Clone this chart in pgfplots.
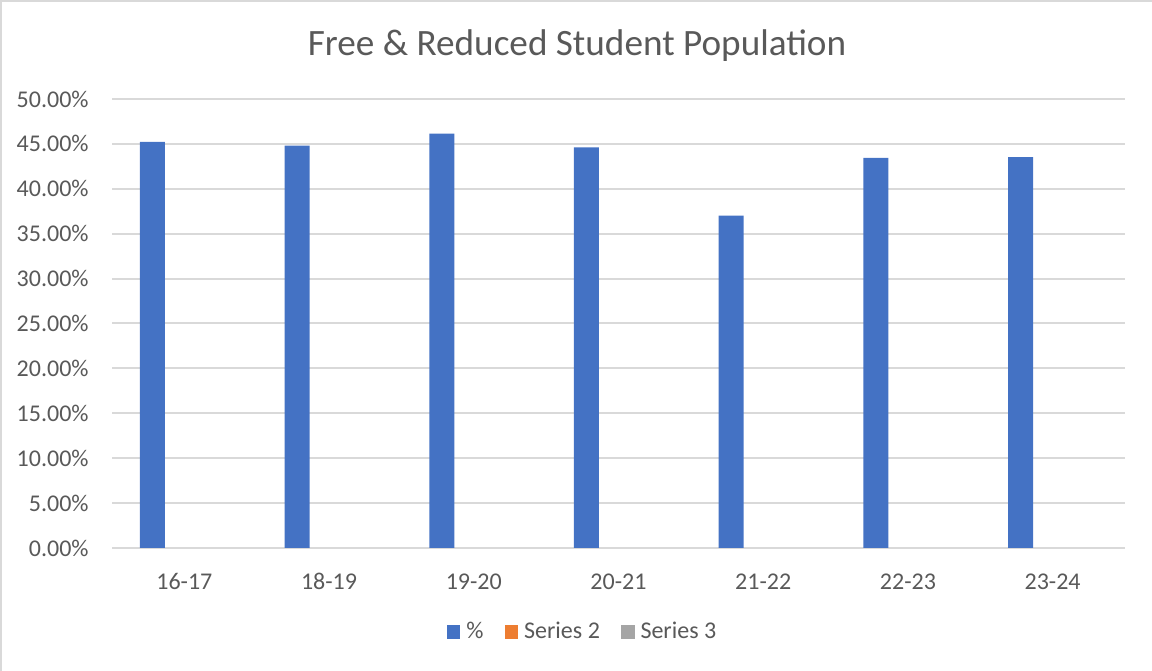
\documentclass[border=0pt]{standalone}
\usepackage{fontspec}
\setmainfont{Carlito}
\usepackage{pgfplots}
\pgfplotsset{compat=1.18}
\definecolor{txt}{HTML}{595959}
\definecolor{grd}{HTML}{D9D9D9}
\definecolor{sblue}{HTML}{4472C4}
\definecolor{sorange}{HTML}{ED7D31}
\definecolor{sgray}{HTML}{A5A5A5}
\begin{document}
\begin{tikzpicture}
\path[use as bounding box] (0,0) rectangle (576bp,335.5bp);
\draw[grd, line width=1bp] (0.5bp,0) -- (0.5bp,335bp) -- (576bp,335bp);
\node[anchor=base, text=txt, font=\fontsize{18.6bp}{21bp}\selectfont] at (288.5bp,307.5bp) {Free \& Reduced Student Population};
\begin{axis}[
    at={(56bp,61.5bp)}, anchor=south west,
    scale only axis,
    width=506.5bp, height=224.5bp,
    xmin=-0.5, xmax=6.5,
    ymin=0, ymax=50,
    ytick={0,5,...,50},
    xtick={0,...,6},
    xticklabels={16-17,18-19,19-20,20-21,21-22,22-23,23-24},
    yticklabel={\pgfmathprintnumber[fixed,fixed zerofill,precision=2]{\tick}\%},
    /pgf/number format/assume math mode=true,
    axis line style={draw=none},
    major tick length=0pt,
    ymajorgrids,
    grid style={grd, line width=1bp},
    tick label style={text=txt, font=\fontsize{12bp}{14bp}\selectfont, inner sep=0pt},
    xticklabel style={anchor=base, yshift=-20.5bp},
    yticklabel style={anchor=east, xshift=-11.5bp},
    legend columns=3,
    legend style={at={(0.465,-0.187)}, anchor=center, draw=none,
        font=\fontsize{12bp}{14bp}\selectfont, text=txt,
        /tikz/every odd column/.append style={column sep=1.5bp},
        /tikz/every even column/.append style={column sep=9bp},
        nodes={inner sep=1.5bp}},
    legend image code/.code={\fill[#1] (0bp,-3.4bp) rectangle (6.8bp,3.4bp);},
]
\addplot[ybar, fill=sblue, draw=none, bar width=12.5bp, bar shift=-16bp] coordinates {
(0,45.22) (1,44.80) (2,46.15) (3,44.60) (4,37.00) (5,43.43) (6,43.54)
};
\addlegendentry{\%}
\addlegendimage{fill=sorange, draw=none}
\addlegendentry{Series 2}
\addlegendimage{fill=sgray, draw=none}
\addlegendentry{Series 3}
\end{axis}
\end{tikzpicture}
\end{document}
